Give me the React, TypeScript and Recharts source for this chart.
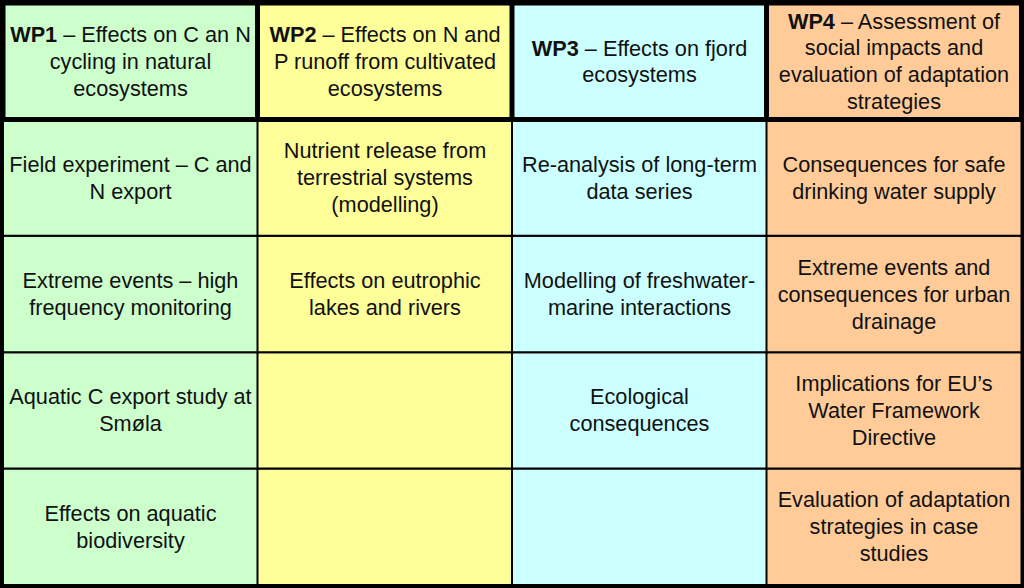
import { Bar, BarChart, Cell, LabelList, XAxis, YAxis } from "recharts"

// ── Table content ─────────────────────────────────────────────────
const packages = ["WP1", "WP2", "WP3", "WP4"]
const columnColors = ["#CCFFCC", "#FFFF99", "#CCFFFF", "#FFCC99"]

// each row takes one unit of height in every column
const rowUnits = [1, 1, 1, 1, 1]

const headerTitles = [
    "WP1| – Effects on C an N\ncycling in natural\necosystems",
    "WP2| – Effects on N and\nP runoff from cultivated\necosystems",
    "WP3| – Effects on fjord\necosystems",
    "WP4| – Assessment of\nsocial impacts and\nevaluation of adaptation\nstrategies",
]
const row1Tasks = [
    "Field experiment – C and\nN export",
    "Nutrient release from\nterrestrial systems\n(modelling)",
    "Re-analysis of long-term\ndata series",
    "Consequences for safe\ndrinking water supply",
]
const row2Tasks = [
    "Extreme events – high\nfrequency monitoring",
    "Effects on eutrophic\nlakes and rivers",
    "Modelling of freshwater-\nmarine interactions",
    "Extreme events and\nconsequences for urban\ndrainage",
]
const row3Tasks = [
    "Aquatic C export study at\nSmøla",
    "",
    "Ecological\nconsequences",
    "Implications for EU’s\nWater Framework\nDirective",
]
const row4Tasks = [
    "Effects on aquatic\nbiodiversity",
    "",
    "",
    "Evaluation of adaptation\nstrategies in case\nstudies",
]

const data = packages.map((wp, i) => ({
    wp,
    r4: rowUnits[4], r3: rowUnits[3], r2: rowUnits[2], r1: rowUnits[1], head: rowUnits[0],
    t4: row4Tasks[i], t3: row3Tasks[i], t2: row2Tasks[i], t1: row1Tasks[i], th: headerTitles[i],
}))

const FONT = "'Liberation Sans', Arial, sans-serif"
const LINE_H = 27

const renderCell = (props: any) => {
    const { x, y, width, height, value } = props
    if (!value) return null
    const lines = String(value).split("\n")
    const cx = Number(x) + Number(width) / 2
    const top = Number(y) + Number(height) / 2 - ((lines.length - 1) * LINE_H) / 2
    return (
        <g>
            {lines.map((line, k) => {
                const parts = line.split("|")
                return (
                    <text key={k} x={cx} y={top + k * LINE_H} textAnchor="middle" dominantBaseline="central"
                        fontFamily={FONT} fontSize={21.7} fill="#111">
                        {parts.length > 1 ? (
                            <>
                                <tspan fontWeight="bold">{parts[0]}</tspan>
                                <tspan>{parts[1]}</tspan>
                            </>
                        ) : line}
                    </text>
                )
            })}
        </g>
    )
}

const bodyRows = [
    { key: "r4", text: "t4" },
    { key: "r3", text: "t3" },
    { key: "r2", text: "t2" },
    { key: "r1", text: "t1" },
]

export default function App() {
    return (
        <div style={{ position: "absolute", left: 0, top: 0, width: 1018, height: 582, border: "3px solid #000", background: "#fff" }}>
            <BarChart width={1018} height={582} data={data} margin={{ top: 0, right: 0, bottom: 0, left: 0 }}
                barCategoryGap={0} barGap={0}>
                <XAxis dataKey="wp" hide />
                <YAxis hide domain={[0, 5]} />
                {bodyRows.map(r => (
                    <Bar key={r.key} dataKey={r.key} stackId="t" stroke="#000" strokeWidth={2} isAnimationActive={false}>
                        {data.map((_, i) => <Cell key={i} fill={columnColors[i]} />)}
                        <LabelList dataKey={r.text} content={renderCell} />
                    </Bar>
                ))}
                <Bar dataKey="head" stackId="t" stroke="#000" strokeWidth={5} isAnimationActive={false}>
                    {data.map((_, i) => <Cell key={i} fill={columnColors[i]} />)}
                    <LabelList dataKey="th" content={renderCell} />
                </Bar>
            </BarChart>
        </div>
    )
}
